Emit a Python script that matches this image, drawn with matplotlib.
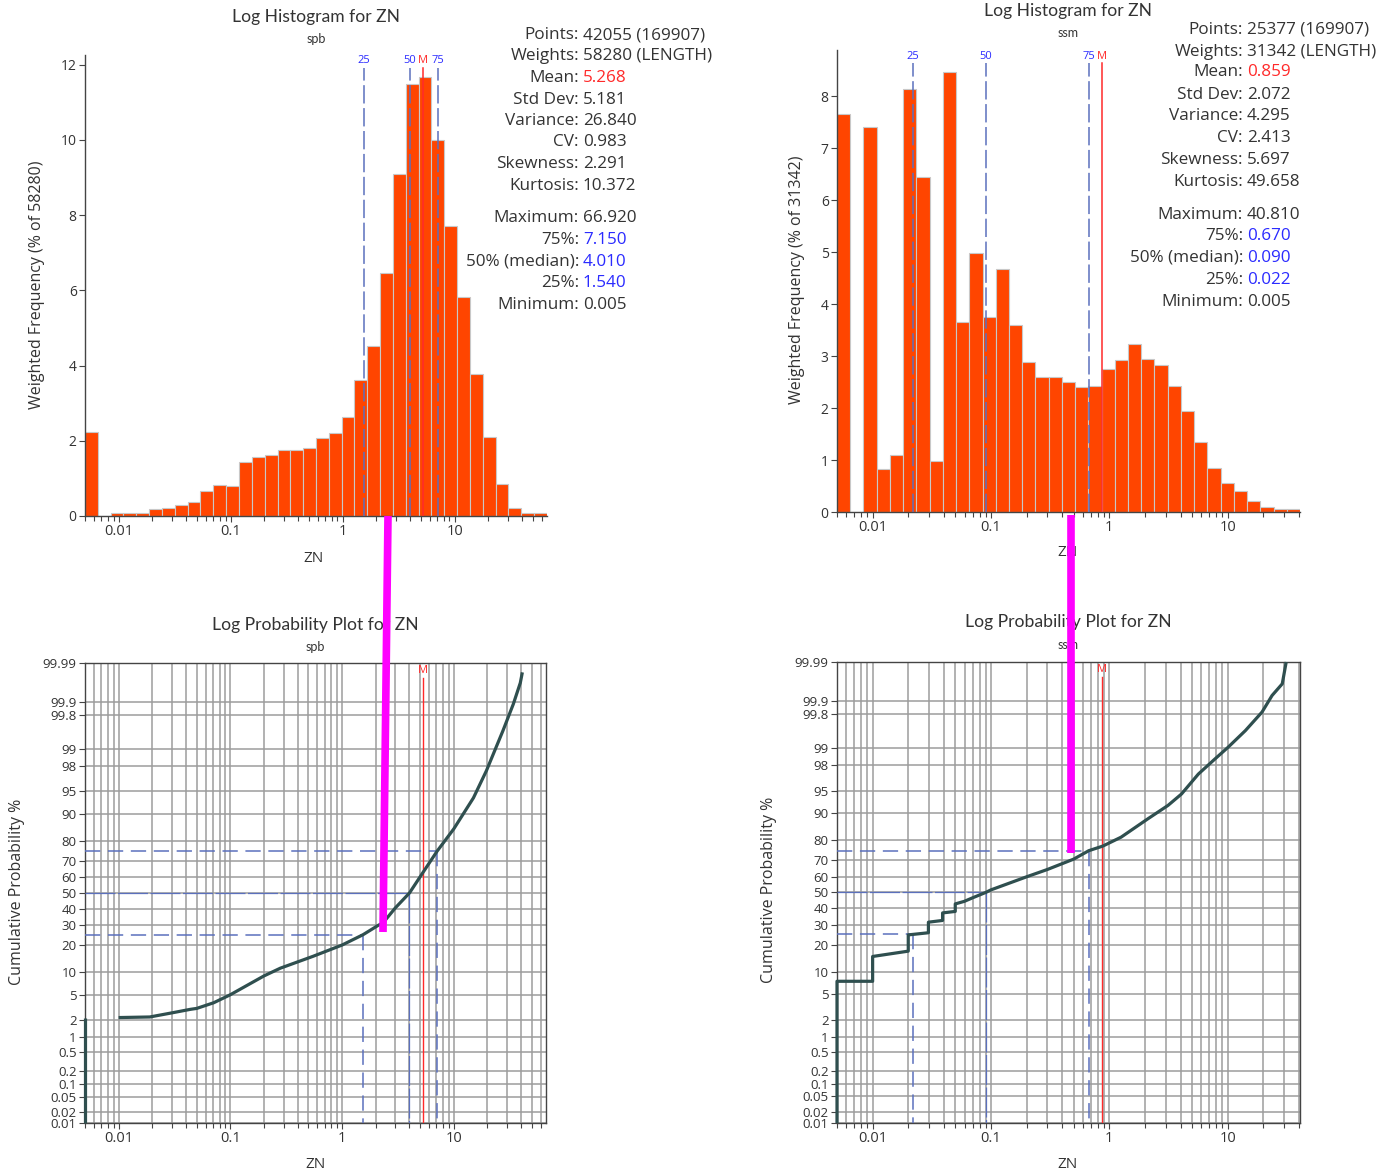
import numpy as np
import matplotlib
matplotlib.use("Agg")
import matplotlib.pyplot as plt
from matplotlib.lines import Line2D
from matplotlib.ticker import LogLocator, FuncFormatter, NullLocator, FixedLocator
from statistics import NormalDist

plt.rcParams['font.family'] = ['Open Sans', 'DejaVu Sans']

# ---------------- data ----------------
variable = "ZN"
domains = ["spb", "ssm"]

# weighted frequency (%) per log bin, left to right
spb_hist = [2.23, 0.0, 0.08, 0.08, 0.08, 0.19, 0.21, 0.28, 0.37, 0.67, 0.83, 0.79,
            1.43, 1.57, 1.62, 1.75, 1.75, 1.81, 2.07, 2.20, 2.62, 3.61, 4.52, 6.47,
            9.10, 11.48, 11.67, 10.00, 7.72, 5.83, 3.78, 2.10, 0.85, 0.21, 0.08, 0.08]
ssm_hist = [7.66, 0.0, 7.42, 0.82, 1.10, 8.14, 6.44, 0.99, 8.47, 3.65, 4.99, 3.76,
            4.67, 3.60, 2.89, 2.60, 2.60, 2.51, 2.41, 2.43, 2.76, 2.92, 3.23, 2.95,
            2.83, 2.43, 1.94, 1.34, 0.85, 0.55, 0.40, 0.22, 0.10, 0.06, 0.06]

stat_labels = ["Points:", "Weights:", "Mean:", "Std Dev:", "Variance:", "CV:",
               "Skewness:", "Kurtosis:", "Maximum:", "75%:", "50% (median):",
               "25%:", "Minimum:"]
spb_values = ["42055 (169907)", "58280 (LENGTH)", "5.268", "5.181", "26.840", "0.983",
              "2.291", "10.372", "66.920", "7.150", "4.010", "1.540", "0.005"]
ssm_values = ["25377 (169907)", "31342 (LENGTH)", "0.859", "2.072", "4.295", "2.413",
              "5.697", "49.658", "40.810", "0.670", "0.090", "0.022", "0.005"]

spb_min, spb_max = 0.005, 66.92
ssm_min, ssm_max = 0.005, 40.81
spb_q25, spb_q50, spb_q75, spb_mean = 1.54, 4.01, 7.15, 5.268
ssm_q25, ssm_q50, ssm_q75, ssm_mean = 0.022, 0.090, 0.670, 0.859

# cumulative probability curves (value, cumulative %)
spb_minstack_x = [0.005, 0.005]
spb_minstack_p = [0.01, 2.2]
spb_cum_x = [0.01, 0.019, 0.029, 0.044, 0.05, 0.071, 0.1, 0.2, 0.28, 0.55, 1.0, 1.54,
             2.1, 2.33, 3.0, 4.01, 5.3, 7.08, 10.0, 15.0, 19.6, 27.6, 34.1, 39.4, 41.1]
spb_cum_p = [2.2, 2.25, 2.6, 3.0, 3.1, 3.8, 5.0, 9.0, 11.2, 15.3, 20.0, 25.0,
             30.0, 31.5, 40.5, 50.0, 63.0, 75.0, 85.0, 93.8, 97.6, 99.57, 99.887, 99.966, 99.982]

ssm_cum_x = [0.005, 0.005, 0.01, 0.01, 0.02, 0.02, 0.0296, 0.0296, 0.039, 0.039, 0.0499,
             0.0499, 0.0594, 0.07, 0.09, 0.1, 0.2, 0.3, 0.5, 0.67, 0.88, 1.257, 2.12,
             3.13, 4.07, 5.65, 7.83, 10.1, 14.1, 19.5, 23.7, 28.9, 31.2]
ssm_cum_p = [0.01, 7.6, 7.6, 15.1, 17.2, 24.7, 25.8, 31.6, 32.6, 37.1, 38.0,
             42.7, 44.3, 46.6, 50.0, 51.7, 60.0, 64.5, 70.5, 75.0, 77.3, 81.4, 88.3,
             92.0, 94.4, 97.2, 98.45, 99.05, 99.55, 99.82, 99.926, 99.962, 99.99]

prob_ticks = [0.01, 0.02, 0.05, 0.1, 0.2, 0.5, 1, 2, 5, 10, 20, 30, 40, 50, 60, 70,
              80, 90, 95, 98, 99, 99.8, 99.9, 99.99]
prob_tick_labels = ["0.01", "0.02", "0.05", "0.1", "0.2", "0.5", "1", "2", "5", "10",
                    "20", "30", "40", "50", "60", "70", "80", "90", "95", "98", "99",
                    "99.8", "99.9", "99.99"]

# ---------------- styles ----------------
W, H = 1398, 1176
fig = plt.figure(figsize=(W / 100, H / 100), dpi=100)
TXT = '#333333'
BAR = '#ff4500'
QBLUE = '#5b70bd'
LBLUE = '#2b2bff'
RED = '#ff2a2a'
GRID = '#9c9c9c'
CURVE = '#2f4f4f'


def add_axes(l, t, r, b):
    return fig.add_axes([l / W, 1 - b / H, (r - l) / W, (b - t) / H])


def ftext(x, y, s, **kw):
    kw.setdefault('color', TXT)
    return fig.text(x / W, 1 - y / H, s, **kw)


nd = NormalDist()
_ppf = np.vectorize(nd.inv_cdf, otypes=[float])
_cdf = np.vectorize(nd.cdf, otypes=[float])


def prob_fwd(p):
    p = np.asarray(p, dtype=float) / 100.0
    p = np.where(np.isfinite(p), np.clip(p, 1e-9, 1 - 1e-9), 0.5)
    return _ppf(p)


def prob_inv(z):
    z = np.asarray(z, dtype=float)
    z = np.where(np.isfinite(z), z, 0.0)
    return _cdf(z) * 100.0


logfmt = FuncFormatter(lambda v, pos: "%g" % v)


def setup_logx(ax, xmin, xmax):
    ax.set_xscale('log')
    ax.set_xlim(xmin, xmax)
    ax.xaxis.set_major_locator(LogLocator(base=10, numticks=20))
    ax.xaxis.set_minor_locator(LogLocator(base=10, subs=np.arange(2, 10), numticks=40))
    ax.xaxis.set_major_formatter(logfmt)
    ax.xaxis.set_minor_formatter(FuncFormatter(lambda v, p: ""))


def style_ticks(ax, ylabelsize):
    ax.tick_params(axis='both', which='major', direction='out', length=4, width=0.8,
                   colors='#444444', labelcolor=TXT, pad=2)
    ax.tick_params(axis='x', which='major', labelsize=10.5)
    ax.tick_params(axis='y', which='major', labelsize=ylabelsize)
    ax.tick_params(axis='x', which='minor', direction='out', length=3.5, width=0.8,
                   colors='#444444')


def histogram(ax, heights, vmin, vmax, q25, q50, q75, mean):
    n = len(heights)
    edges = np.logspace(np.log10(vmin), np.log10(vmax), n + 1)
    ax.bar(edges[:-1], heights, width=np.diff(edges), align='edge', color=BAR,
           edgecolor='#c8c8c8', linewidth=0.8, zorder=2)
    setup_logx(ax, vmin, vmax)
    ax.set_ylim(0, max(heights) * 1.05)
    for s in ['top', 'right']:
        ax.spines[s].set_visible(False)
    for s in ['left', 'bottom']:
        ax.spines[s].set_color('#444444')
        ax.spines[s].set_linewidth(1.0)
    style_ticks(ax, 10)
    top = 0.972
    for q, lab in [(q25, "25"), (q50, "50"), (q75, "75")]:
        ax.axvline(q, ymin=0, ymax=top, color=QBLUE, lw=1.1, dashes=(12, 3), zorder=3)
        ax.text(q, 0.987, lab, transform=ax.get_xaxis_transform(), ha='center',
                va='center', fontsize=8, color=LBLUE)
    ax.axvline(mean, ymin=0, ymax=top, color=RED, lw=1.1, zorder=3)
    ax.text(mean, 0.987, "M", transform=ax.get_xaxis_transform(), ha='center',
            va='center', fontsize=8, color=RED)


def probplot(ax, vmin, vmax, q25, q50, q75, mean, series):
    setup_logx(ax, vmin, vmax)
    ax.set_yscale('function', functions=(prob_fwd, prob_inv))
    ax.set_ylim(0.01, 99.99)
    ax.yaxis.set_major_locator(FixedLocator(prob_ticks))
    ax.set_yticklabels(prob_tick_labels)
    ax.yaxis.set_minor_locator(NullLocator())
    ax.grid(True, which='both', axis='x', color=GRID, lw=1.1, zorder=0)
    ax.grid(True, which='major', axis='y', color=GRID, lw=1.1, zorder=0)
    ax.set_axisbelow(True)
    for s in ax.spines.values():
        s.set_color('#444444')
        s.set_linewidth(1.0)
    style_ticks(ax, 9.5)
    for q, p, dash, lw in [(q25, 25, (10, 5), 1.1), (q50, 50, (24, 2), 0.9), (q75, 75, (10, 5), 1.1)]:
        ax.plot([vmin, q], [p, p], color=QBLUE, lw=lw, dashes=dash, zorder=3)
        ax.plot([q, q], [p, 0.01], color=QBLUE, lw=lw, dashes=dash, zorder=3)
    ax.axvline(mean, ymin=0, ymax=0.968, color=RED, lw=1.0, zorder=3)
    ax.text(mean, 0.983, "M", transform=ax.get_xaxis_transform(), ha='center',
            va='center', fontsize=8, color=RED)
    for xs, ps in series:
        ax.plot(xs, ps, color=CURVE, lw=2.3, solid_capstyle='butt', zorder=4,
                clip_on=False)


# ---------------- axes ----------------
ax1 = add_axes(85, 55, 547, 516)
histogram(ax1, spb_hist, spb_min, spb_max, spb_q25, spb_q50, spb_q75, spb_mean)
ax2 = add_axes(837, 50, 1300, 512)
histogram(ax2, ssm_hist, ssm_min, ssm_max, ssm_q25, ssm_q50, ssm_q75, ssm_mean)
ax3 = add_axes(85, 663, 546, 1123)
probplot(ax3, spb_min, spb_max, spb_q25, spb_q50, spb_q75, spb_mean,
         [(spb_minstack_x, spb_minstack_p), (spb_cum_x, spb_cum_p)])
ax4 = add_axes(837, 662, 1300, 1123)
probplot(ax4, ssm_min, ssm_max, ssm_q25, ssm_q50, ssm_q75, ssm_mean,
         [(ssm_cum_x, ssm_cum_p)])

# ---------------- titles & labels ----------------
tkw = dict(ha='center', va='center', family=['Lato', 'DejaVu Sans'])
ftext(316, 17, "Log Histogram for " + variable, fontsize=12.6, **tkw)
ftext(316, 39, domains[0], fontsize=9, **tkw)
ftext(1068, 11, "Log Histogram for " + variable, fontsize=12.6, **tkw)
ftext(1068, 33, domains[1], fontsize=9, **tkw)
ftext(315, 625, "Log Probability Plot for " + variable, fontsize=12.6, **tkw)
ftext(315, 647, domains[0], fontsize=9, **tkw)
ftext(1068, 622, "Log Probability Plot for " + variable, fontsize=12.6, **tkw)
ftext(1068, 645, domains[1], fontsize=9, **tkw)

ftext(314, 558, variable, fontsize=11, ha='center', va='center')
ftext(1068, 553, variable, fontsize=11, ha='center', va='center')
ftext(315, 1165, variable, fontsize=11, ha='center', va='center')
ftext(1068, 1165, variable, fontsize=11, ha='center', va='center')

ftext(37, 285, "Weighted Frequency (% of 58280)", fontsize=11.5, rotation=90, ha='center', va='center')
ftext(797, 280, "Weighted Frequency (% of 31342)", fontsize=11.5, rotation=90, ha='center', va='center')
ftext(17, 892, "Cumulative Probability %", fontsize=11.5, rotation=90, ha='center', va='center')
ftext(769, 890, "Cumulative Probability %", fontsize=11.5, rotation=90, ha='center', va='center')

# ---------------- statistics blocks ----------------
spb_rows = [35, 56, 77.5, 99.5, 121, 142.5, 164, 185.5, 218.5, 240, 261.5, 283, 305]
ssm_rows = [30, 51.5, 72.5, 95, 116.5, 138, 160, 182, 214.5, 236.5, 258, 279.5, 302]


def value_color(label):
    if label == "Mean:":
        return RED
    if label in ("75%:", "50% (median):", "25%:"):
        return LBLUE
    return TXT


for colon_x, rows, values in [(579, spb_rows, spb_values), (1243, ssm_rows, ssm_values)]:
    for lab, val, y in zip(stat_labels, values, rows):
        ftext(colon_x, y, lab, fontsize=12.3, ha='right', va='center')
        ftext(colon_x + 4, y, val, fontsize=12.3, ha='left', va='center', color=value_color(lab))

# ---------------- magenta annotation strokes ----------------
for (x0, y0, x1, y1) in [(388, 516, 383, 932), (1071, 515, 1071, 853)]:
    fig.add_artist(Line2D([x0 / W, x1 / W], [1 - y0 / H, 1 - y1 / H], transform=fig.transFigure,
                          color='#ff00ff', lw=5.5, solid_capstyle='butt', zorder=100))

fig.savefig("out.png", dpi=100)
